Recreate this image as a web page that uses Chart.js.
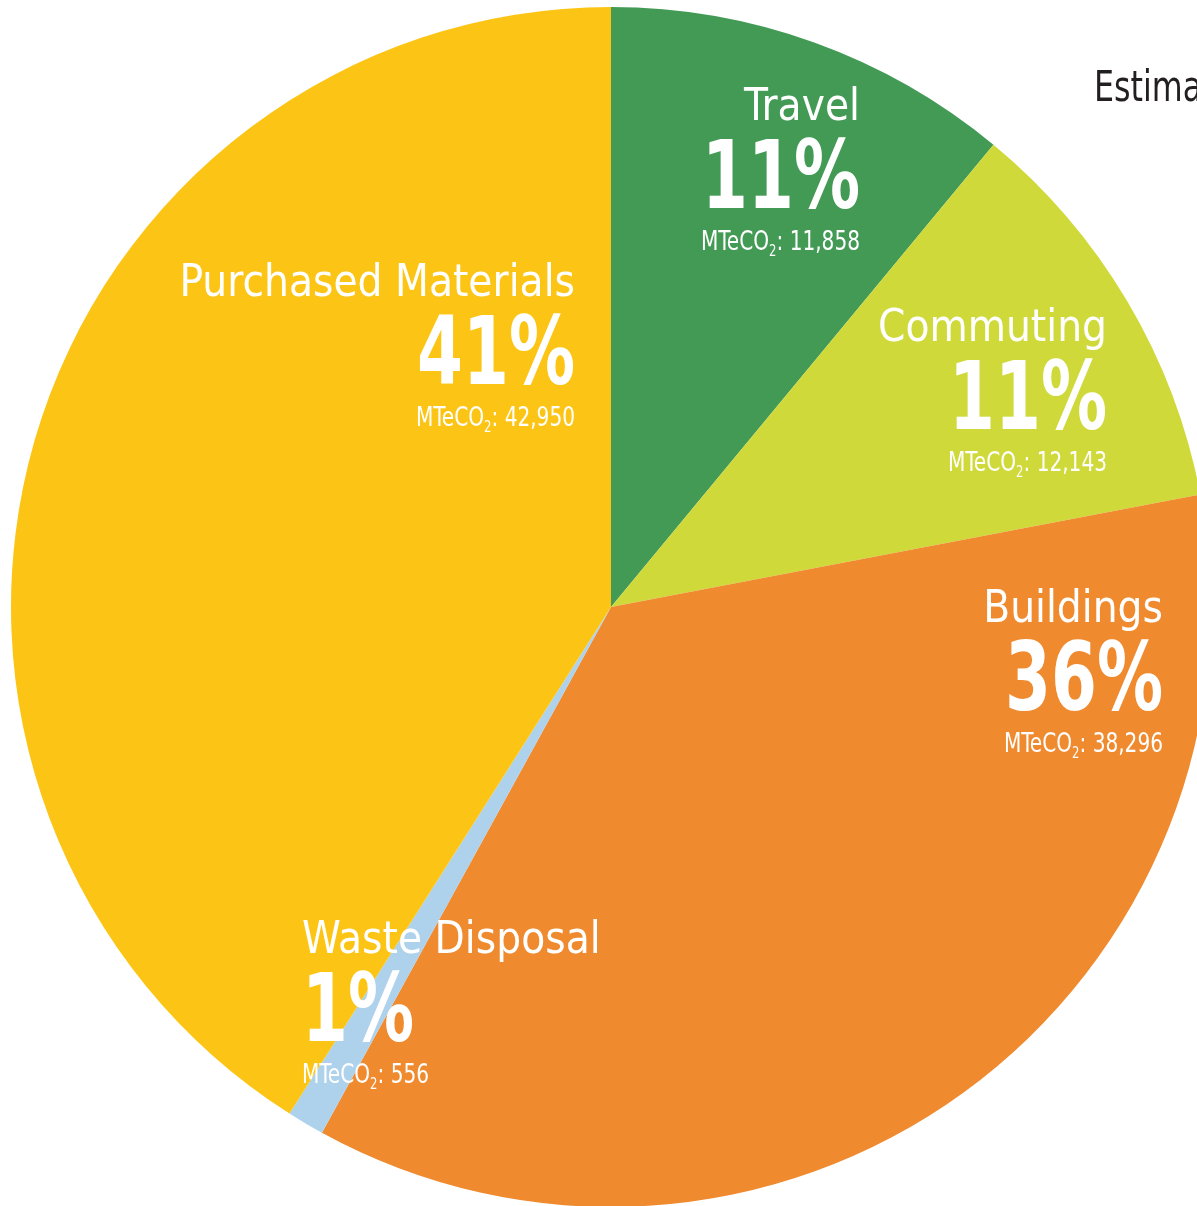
<!DOCTYPE html>
<html>
<head>
<meta charset="utf-8">
<script src="https://cdn.jsdelivr.net/npm/chart.js@4"></script>
<style>
  html, body { margin: 0; padding: 0; background: #ffffff; overflow: hidden; }
  #wrap { position: absolute; left: 0; top: 0; width: 1222px; height: 1214px; }
</style>
</head>
<body>
<div id="wrap"><canvas id="myChart"></canvas></div>
<script>
// chart data
const categories = ['Travel', 'Commuting', 'Buildings', 'Waste Disposal', 'Purchased Materials'];
const percentValues = [11, 11, 36, 1, 41];
const emissionValues = ['11,858', '12,143', '38,296', '556', '42,950'];
const sliceColors = ['#439a55', '#cfd93a', '#ef8a2f', '#afd2ec', '#fcc515'];
const titleText = 'Estimated Carbon Footprint';

// where each label block sits: x anchor, baseline of the name, alignment
const labelPos = [
    { x: 860, y: 120, align: 'right' },
    { x: 1107, y: 341, align: 'right' },
    { x: 1163, y: 622, align: 'right' },
    { x: 302, y: 953, align: 'left' },
    { x: 575, y: 296, align: 'right' }
];

const fontFam = '"Liberation Sans Narrow", "DejaVu Sans Condensed", "Liberation Sans", sans-serif';

// text squeezed horizontally (no condensed face available)
function drawText(ctx, str, x, y, align, sx) {
    ctx.save();
    ctx.translate(x, y);
    ctx.scale(sx, 1);
    ctx.textAlign = align;
    ctx.fillText(str, 0, 0);
    ctx.restore();
}

// draws the name / big percent / MTeCO2 line for each slice
const labelPlugin = {
    id: 'sliceLabels',
    afterDatasetsDraw(chart) {
        const ctx = chart.ctx;
        ctx.save();
        ctx.fillStyle = '#ffffff';
        ctx.textBaseline = 'alphabetic';

        for (let i = 0; i < categories.length; i++) {
            let p = labelPos[i];

            // name
            ctx.font = '45px ' + fontFam;
            drawText(ctx, categories[i], p.x, p.y, p.align, 0.97);

            // percent
            ctx.font = 'bold 94px ' + fontFam;
            drawText(ctx, percentValues[i] + '%', p.x, p.y + 88, p.align, 0.78);

            // MTeCO2: value, with subscript 2
            let sx = 0.86;
            let part1 = 'MTeCO';
            let part2 = '2';
            let part3 = ': ' + emissionValues[i];
            ctx.font = '26px ' + fontFam;
            let w1 = ctx.measureText(part1).width * sx;
            let w3 = ctx.measureText(part3).width * sx;
            ctx.font = '15px ' + fontFam;
            let w2 = ctx.measureText(part2).width * sx;
            let total = w1 + w2 + w3;
            let x0 = p.align == 'right' ? p.x - total : p.x;
            let yb = p.y + 130;
            ctx.font = '26px ' + fontFam;
            drawText(ctx, part1, x0, yb, 'left', sx);
            ctx.font = '15px ' + fontFam;
            drawText(ctx, part2, x0 + w1, yb + 6, 'left', sx);
            ctx.font = '26px ' + fontFam;
            drawText(ctx, part3, x0 + w1 + w2, yb, 'left', sx);
        }

        // title, cut off by the page edge
        ctx.fillStyle = '#231f20';
        ctx.font = '42px ' + fontFam;
        drawText(ctx, titleText, 1094, 101, 'left', 0.84);

        ctx.restore();
    }
};

let ctx = document.getElementById('myChart').getContext('2d');
let myChart = new Chart(ctx, {
    type: 'pie',
    data: {
        labels: categories,
        datasets: [{
            data: percentValues,
            backgroundColor: sliceColors,
            borderWidth: 0
        }]
    },
    options: {
        responsive: true,
        maintainAspectRatio: false,
        animation: false,
        layout: { padding: 7 },
        plugins: {
            legend: { display: false },
            tooltip: { enabled: false }
        }
    },
    plugins: [labelPlugin]
});
</script>
</body>
</html>
